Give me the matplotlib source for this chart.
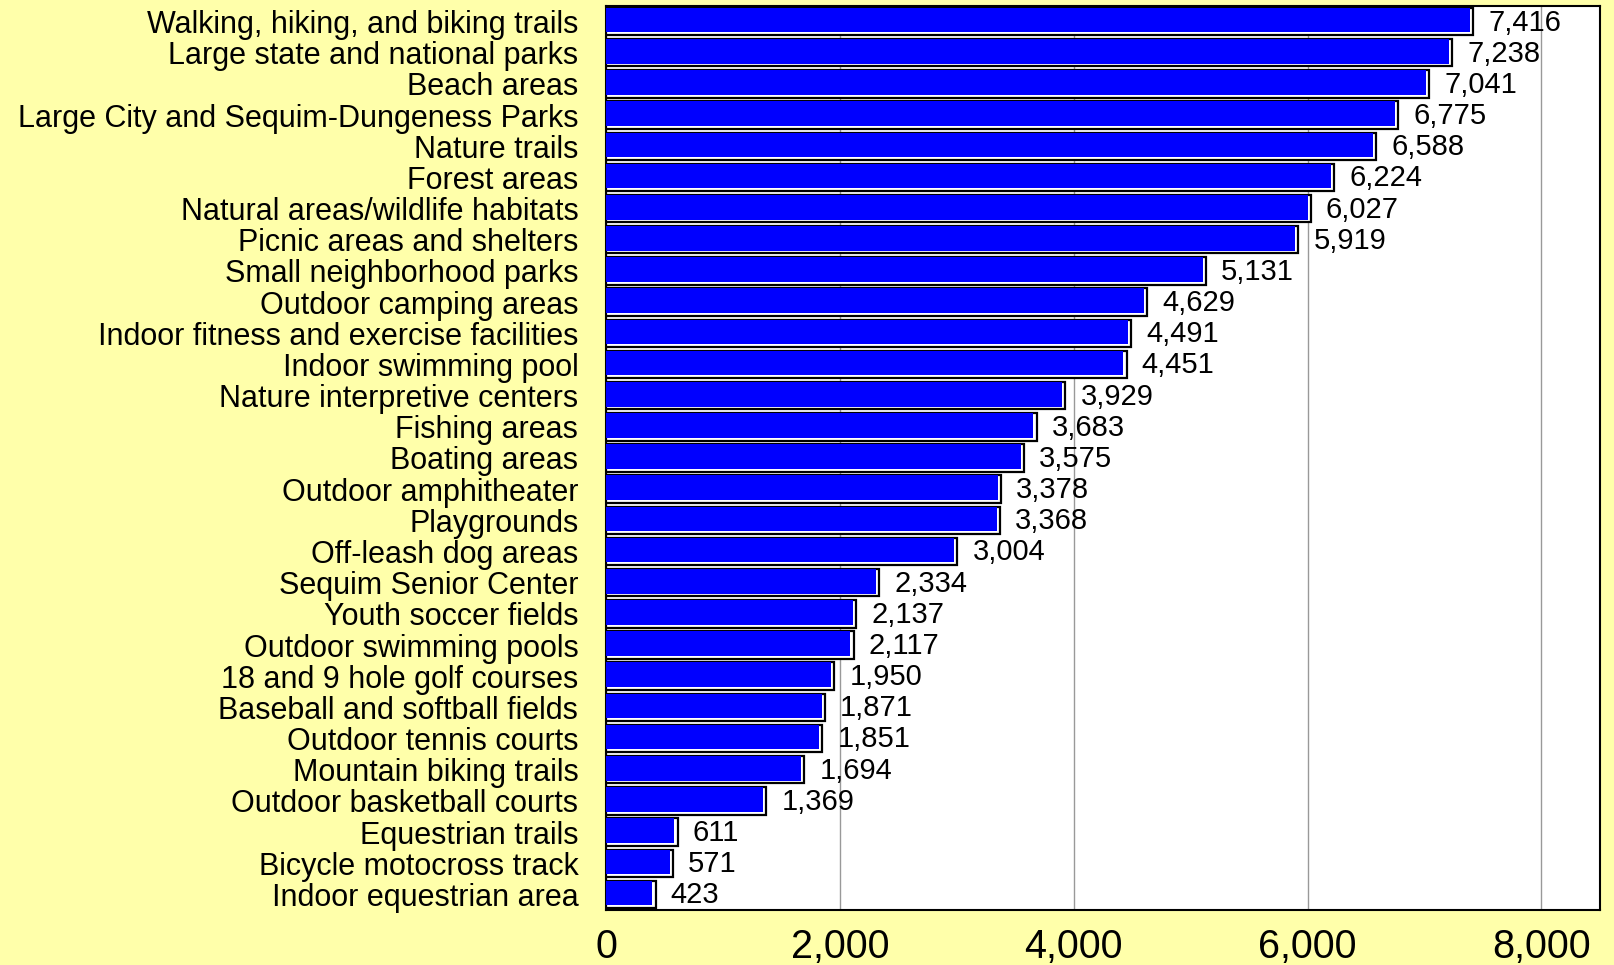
"""
    Horizontal bar chart of facility usage counts
"""
import matplotlib
matplotlib.use("Agg")
import matplotlib.pyplot as plt

categories = [
    "Walking, hiking, and biking trails",
    "Large state and national parks",
    "Beach areas",
    "Large City and Sequim-Dungeness Parks",
    "Nature trails",
    "Forest areas",
    "Natural areas/wildlife habitats",
    "Picnic areas and shelters",
    "Small neighborhood parks",
    "Outdoor camping areas",
    "Indoor fitness and exercise facilities",
    "Indoor swimming pool",
    "Nature interpretive centers",
    "Fishing areas",
    "Boating areas",
    "Outdoor amphitheater",
    "Playgrounds",
    "Off-leash dog areas",
    "Sequim Senior Center",
    "Youth soccer fields",
    "Outdoor swimming pools",
    "18 and 9 hole golf courses",
    "Baseball and softball fields",
    "Outdoor tennis courts",
    "Mountain biking trails",
    "Outdoor basketball courts",
    "Equestrian trails",
    "Bicycle motocross track",
    "Indoor equestrian area",
]
values = [7416, 7238, 7041, 6775, 6588, 6224, 6027, 5919, 5131, 4629,
          4491, 4451, 3929, 3683, 3575, 3378, 3368, 3004, 2334, 2137,
          2117, 1950, 1871, 1851, 1694, 1369, 611, 571, 423]
x_ticks = [0, 2000, 4000, 6000, 8000]


def main():
    """
        Draw the chart and save it
    """
    plt.rcParams["font.family"] = ["Liberation Sans", "DejaVu Sans"]
    bg = "#FFFFAA"

    fig = plt.figure(figsize=(16.14, 9.65), dpi=100, facecolor=bg)
    ax = fig.add_axes([0.3755, 0.057, 0.6158, 0.9368])
    ax.set_facecolor("white")

    pos = list(range(len(categories)))
    h = 0.88
    dh = 0.09   # white strip at bottom of each bar
    dx = 28     # white strip at right of each bar

    # outer bar (white with black outline), then blue fill inset
    ax.barh(pos, values, height=h, color="white", edgecolor="black",
            linewidth=1.6, zorder=3)
    ax.barh([p - dh / 2 for p in pos], [v - dx for v in values],
            height=h - dh, color="#0000FF", edgecolor="none", zorder=4)

    for p, v in zip(pos, values):
        ax.text(v + 130, p + 0.03, f"{v:,}", va="center", ha="left",
                fontsize=21, zorder=5)

    ax.set_xlim(0, 8500)
    ax.set_ylim(len(categories) - 0.5, -0.5)
    ax.set_yticks(pos)
    ax.set_yticklabels(categories, fontsize=22)
    ax.set_xticks(x_ticks)
    ax.set_xticklabels([f"{t:,}" for t in x_ticks], fontsize=28.5)
    ax.tick_params(axis="both", length=0)
    ax.tick_params(axis="x", pad=13)
    ax.tick_params(axis="y", pad=20)

    ax.xaxis.grid(True, color="#999999", linewidth=1.0, zorder=0)
    ax.set_axisbelow(True)
    for sp in ax.spines.values():
        sp.set_color("black")
        sp.set_linewidth(1.5)

    fig.savefig("out.png", dpi=100, facecolor=bg)


if __name__ == "__main__":
    main()
